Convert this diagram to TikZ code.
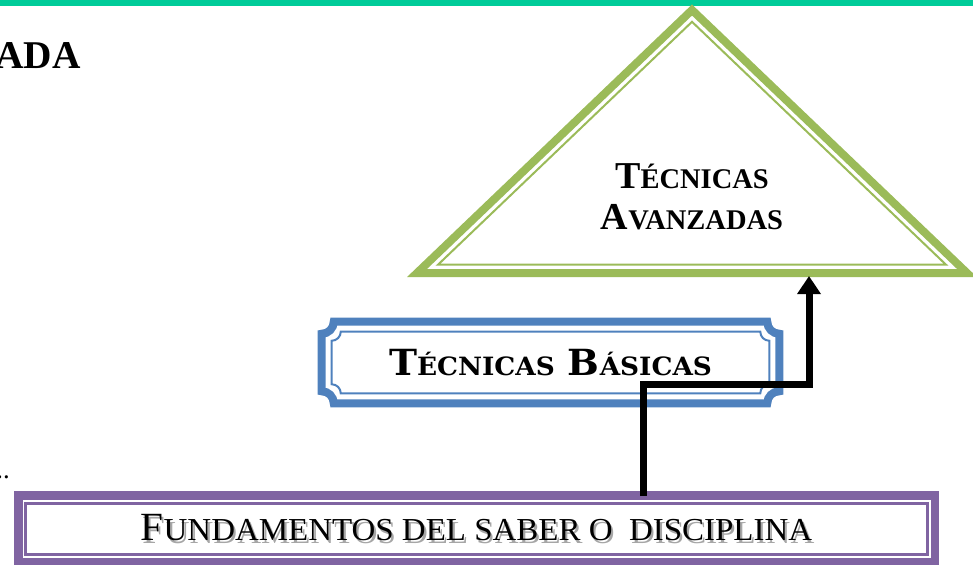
\documentclass[tikz,border=0pt]{standalone}
\usepackage{graphicx}
\usepackage{fontspec}
\setmainfont{Liberation Serif}
\newfontfamily\placafont{DejaVu Serif}
\newfontfamily\pcserif[Scale=0.75]{Liberation Serif}
\newfontfamily\pcfund[Scale=0.8]{Liberation Serif}
\newfontfamily\pcplaca[Scale=0.70]{DejaVu Serif}
\usetikzlibrary{positioning, arrows.meta}

\definecolor{verdeazul}{HTML}{00CC99}
\definecolor{verde}{HTML}{9BBB59}
\definecolor{azul}{HTML}{4F81BD}
\definecolor{morado}{HTML}{8064A2}

% small capitals by hand
\newcommand{\pc}[1]{{\pcserif #1}}
\newcommand{\pcf}[1]{{\pcfund #1}}
\newcommand{\pcb}[1]{{\pcplaca #1}}
% text with a grey shadow
\newcommand{\sombra}[1]{\leavevmode\rlap{\kern1.6pt\raisebox{-1.6pt}{\textcolor{black!35}{#1}}}#1}
% rectangle with concave corners round a node
\newcommand{\placa}[4]{% #1 style, #2 node, #3 inset, #4 radius
  \draw[#1] ([shift={(#3+#4,-#3)}]#2.north west)
    -- ([shift={(-#3-#4,-#3)}]#2.north east) arc[start angle=180, end angle=270, radius=#4]
    -- ([shift={(-#3,#3+#4)}]#2.south east) arc[start angle=90, end angle=180, radius=#4]
    -- ([shift={(#3+#4,#3)}]#2.south west) arc[start angle=0, end angle=90, radius=#4]
    -- ([shift={(#3,-#3-#4)}]#2.north west) arc[start angle=270, end angle=360, radius=#4]
    -- cycle;}

\begin{document}
\begin{tikzpicture}[
                x=0.75pt, y=0.75pt,
                trianguloext/.style={draw=verde, line width=6pt, line join=miter},
                trianguloint/.style={draw=verde, line width=1.5pt, line join=miter},
                bordeazul/.style={draw=azul, line width=6pt},
                lineaazul/.style={draw=azul, line width=1.5pt},
                bordemorado/.style={draw=morado, line width=6.4pt},
                lineamorada/.style={draw=morado, line width=2.2pt},
                caja/.style={inner sep=0pt, anchor=center},
                flecha/.style={draw, line width=5.25pt, -{Triangle[length=13.5pt, width=17pt]}}
              ]
              \useasboundingbox (0,0) rectangle (973,-564);

              \fill[verdeazul] (0,0) rectangle (973,-6);
              \node (ada) [inner sep=0pt, anchor=base east, font=\bfseries\fontsize{29.5}{34}\selectfont] at (81,-68) {ADA};
              \node (puntos) [inner sep=0pt, anchor=base east, font=\fontsize{20}{24}\selectfont] at (10,-478) {..};

              % triangle
              \coordinate (cima) at (692,-10);
              \coordinate (bizq) at (417,-273);
              \coordinate (bder) at (967,-273);
              \draw[trianguloext] (cima) -- (bizq) -- (bder) -- cycle;
              \draw[trianguloint] (692,-21.8) -- (438.2,-264.5) -- (945.8,-264.5) -- cycle;
              \node (avanz) [caja, align=center, font=\bfseries\fontsize{28.5}{31}\selectfont] at (692,-197)
                {T\pc{ÉCNICAS}\\A\pc{VANZADAS}};

              % boxes
              \node (basicas) [caja, minimum width=342.75pt, minimum height=60.75pt,
                font=\placafont\bfseries\fontsize{27}{30}\selectfont] at (550.5,-362.5)
                {\scalebox{1.045}[1]{T\pcb{ÉCNICAS} B\pcb{ÁSICAS}}};
              \placa{bordeazul}{basicas}{0}{12}
              \placa{lineaazul}{basicas}{10}{9}

              \node (fund) [caja, minimum width=687pt, minimum height=49.5pt,
                font=\fontsize{30}{36}\selectfont] at (476.5,-529)
                {\scalebox{1.03}[1]{\sombra{F\pcf{UNDAMENTOS DEL SABER O\ \ DISCIPLINA}}}};
              \draw[bordemorado] (fund.south west) rectangle (fund.north east);
              \draw[lineamorada] ([shift={(7.5,7.5)}]fund.south west) rectangle ([shift={(-7.5,-7.5)}]fund.north east);

              % Draw arrow
              \coordinate (salida) at (643,-496);
              \coordinate (llegada) at (809,-276);
              \draw[flecha] (salida) -- ++(0,112) -| (llegada);

\end{tikzpicture}
\end{document}
